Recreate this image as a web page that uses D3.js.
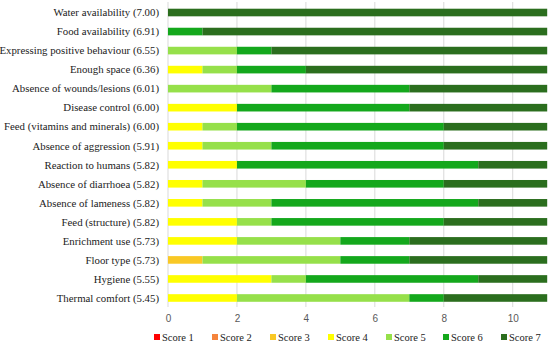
<!DOCTYPE html>
<html>
<head>
<meta charset="utf-8">
<script src="https://cdn.jsdelivr.net/npm/d3@7"></script>
<style>
  body { margin: 0; background: #fff; }
  svg { display: block; }
  .serif { font-family: "Liberation Serif", "DejaVu Serif", serif; }
</style>
</head>
<body>
<div id="chart"></div>
<script>
// criteria, top to bottom
var categories = [
    "Water availability (7.00)",
    "Food availability (6.91)",
    "Expressing positive behaviour (6.55)",
    "Enough space (6.36)",
    "Absence of wounds/lesions (6.01)",
    "Disease control (6.00)",
    "Feed (vitamins and minerals) (6.00)",
    "Absence of aggression (5.91)",
    "Reaction to humans (5.82)",
    "Absence of diarrhoea (5.82)",
    "Absence of lameness (5.82)",
    "Feed (structure) (5.82)",
    "Enrichment use (5.73)",
    "Floor type (5.73)",
    "Hygiene (5.55)",
    "Thermal comfort (5.45)"
]

var scores = ["Score 1", "Score 2", "Score 3", "Score 4", "Score 5", "Score 6", "Score 7"]

// counts per score, one array per score, in category order
var score1 = [0, 0, 0, 0, 0, 0, 0, 0, 0, 0, 0, 0, 0, 0, 0, 0]
var score2 = [0, 0, 0, 0, 0, 0, 0, 0, 0, 0, 0, 0, 0, 0, 0, 0]
var score3 = [0, 0, 0, 0, 0, 0, 0, 0, 0, 0, 0, 0, 0, 1, 0, 0]
var score4 = [0, 0, 0, 1, 0, 2, 1, 1, 2, 1, 1, 2, 2, 0, 3, 2]
var score5 = [0, 0, 2, 1, 3, 0, 1, 2, 0, 3, 2, 1, 3, 4, 1, 5]
var score6 = [0, 1, 1, 2, 4, 5, 6, 5, 7, 4, 6, 5, 2, 2, 5, 1]
var score7 = [11, 10, 8, 7, 4, 4, 3, 3, 2, 3, 2, 3, 4, 4, 2, 3]

var xTicks = [0, 2, 4, 6, 8, 10]
var colors = ["#ff0000", "#f5843c", "#f9c825", "#ffff00", "#96e04a", "#14a81c", "#2b6e1e"]

var W = 550, H = 344
var margin = { left: 168, right: 3, top: 3, bottom: 38 }

var series = [score1, score2, score3, score4, score5, score6, score7]
var rows = categories.map((c, i) => {
    var r = { cat: c }
    scores.forEach((s, j) => r[s] = series[j][i])
    return r
})
var stacked = d3.stack().keys(scores)(rows)

var svg = d3.select("#chart").append("svg")
    .attr("width", W)
    .attr("height", H)

var x = d3.scaleLinear().domain([0, 11]).range([margin.left, 547.2])
var y = d3.scaleBand().domain(categories).range([margin.top, 307.5]).paddingInner(0.6).paddingOuter(0.3)

// grid
svg.append("g")
    .selectAll("line")
    .data(xTicks)
    .enter()
    .append("line")
    .attr("x1", d => x(d))
    .attr("x2", d => x(d))
    .attr("y1", 2)
    .attr("y2", 307)
    .attr("stroke", "#d9d9d9")
    .attr("stroke-width", 1)

// bars
svg.append("g")
    .selectAll("g")
    .data(stacked)
    .enter()
    .append("g")
    .attr("fill", (d, i) => colors[i])
    .selectAll("rect")
    .data(d => d)
    .enter()
    .append("rect")
    .attr("x", d => x(d[0]))
    .attr("width", d => x(d[1]) - x(d[0]))
    .attr("y", d => y(d.data.cat))
    .attr("height", y.bandwidth())

// category labels
svg.append("g")
    .selectAll("text")
    .data(categories)
    .enter()
    .append("text")
    .attr("class", "serif")
    .attr("x", margin.left - 9)
    .attr("y", d => y(d) + y.bandwidth() / 2)
    .attr("dy", "0.35em")
    .attr("text-anchor", "end")
    .attr("font-size", "10.8px")
    .attr("fill", "#222")
    .text(d => d)

// x axis labels
var xAxis = d3.axisBottom(x).tickValues(xTicks).tickSize(0).tickPadding(0)
var gx = svg.append("g")
    .attr("transform", "translate(0," + 315 + ")")
    .call(xAxis)
gx.select(".domain").remove()
gx.selectAll("text")
    .attr("font-family", "'Liberation Sans', Arial, sans-serif")
    .attr("font-size", "10px")
    .attr("fill", "#595959")

// legend
var legendX = [149, 207, 265, 323, 381, 438, 496]
var lg = svg.append("g")
    .selectAll("g")
    .data(scores)
    .enter()
    .append("g")
    .attr("transform", (d, i) => "translate(" + legendX[i] + ",337)")
lg.append("rect")
    .attr("x", 5)
    .attr("y", -3)
    .attr("width", 6)
    .attr("height", 6)
    .attr("fill", (d, i) => colors[i])
lg.append("text")
    .attr("class", "serif")
    .attr("x", 13)
    .attr("y", 0)
    .attr("dy", "0.35em")
    .attr("font-size", "10.5px")
    .attr("fill", "#222")
    .text(d => d)
</script>
</body>
</html>
